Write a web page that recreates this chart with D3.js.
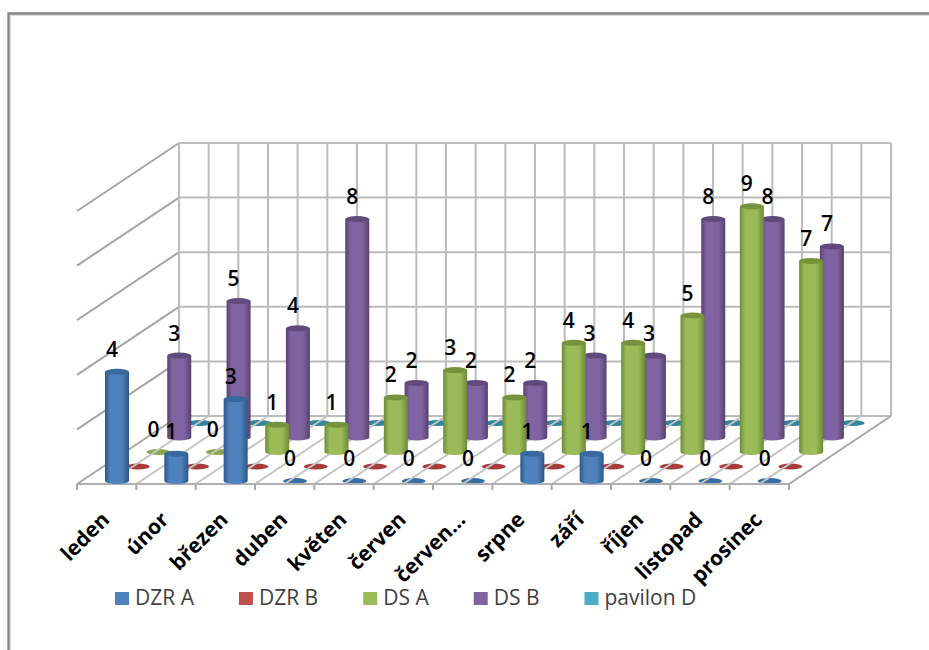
<!DOCTYPE html>
<html>
<head>
<meta charset="utf-8">
<script src="https://cdn.jsdelivr.net/npm/d3@7"></script>
<style>
  html, body { margin: 0; padding: 0; background: #fff; }
  svg { display: block; }
  text { font-family: "Open Sans", sans-serif; }
</style>
</head>
<body>
<svg width="929" height="650"></svg>
<script>
const months = ["leden", "únor", "březen", "duben", "květen", "červen", "červen...", "srpne", "září", "říjen", "listopad", "prosinec"];
const seriesNames = ["DZR A", "DZR B", "DS A", "DS B", "pavilon D"];
const dzrA = [4, 1, 3, 0, 0, 0, 0, 1, 1, 0, 0, 0];
const dzrB = [0, 0, 0, 0, 0, 0, 0, 0, 0, 0, 0, 0];
const dsA = [0, 0, 1, 1, 2, 3, 2, 4, 4, 5, 9, 7];
const dsB = [3, 5, 4, 8, 2, 2, 2, 3, 3, 8, 8, 7];
const pavilonD = [0, 0, 0, 0, 0, 0, 0, 0, 0, 0, 0, 0];
const gridTicks = [0, 2, 4, 6, 8, 10];

const seriesValues = [dzrA, dzrB, dsA, dsB, pavilonD];
const labelled = [true, false, true, true, false];
const colors = [
  { main: "#4f81bd", edge: "#2c5688", top: "#37689e", zero: "#376fa5" },
  { main: "#c0504d", edge: "#8a3432", top: "#a83c3c", zero: "#a83c3c" },
  { main: "#9bbb59", edge: "#6d8a38", top: "#76923c", zero: "#8aa84a" },
  { main: "#8064a2", edge: "#57426f", top: "#604a7b", zero: "#604a7b" },
  { main: "#4bacc6", edge: "#2b7d93", top: "#31859c", zero: "#31859c" }
];

const svg = d3.select("svg");
const depthX = 102;
const depthY = 68;
const frontY = 484;
const cylR = 12;
const cylRy = 3;

const xEdge = d3.scaleLinear().domain([0, months.length]).range([77, 789]);
const xBand = d3.scaleBand().domain(months).range([77, 789]);
const yValue = d3.scaleLinear().domain([0, 10]).range([416, 143]);
const serX = d3.scalePoint().domain(seriesNames).range([40, 123]);
const serY = d3.scalePoint().domain(seriesNames).range([481, 423]);

// outer frame of the pasted chart
const frame = svg.append("g");
frame.append("path").attr("d", "M8.5,650V13.5H929").attr("fill", "none").attr("stroke", "#868686").attr("stroke-width", 2.4);
frame.append("path").attr("d", "M10.5,650V15.5H929").attr("fill", "none").attr("stroke", "#d9d9d9").attr("stroke-width", 1);

// gradients for the cylinders
const defs = svg.append("defs");
colors.forEach((c, i) => {
  const g = defs.append("linearGradient").attr("id", `cyl${i}`);
  g.append("stop").attr("offset", "0%").attr("stop-color", c.edge);
  g.append("stop").attr("offset", "22%").attr("stop-color", c.main);
  g.append("stop").attr("offset", "70%").attr("stop-color", c.main);
  g.append("stop").attr("offset", "100%").attr("stop-color", c.edge);
});

const grid = svg.append("g").attr("fill", "none").attr("stroke", "#bcbcbc").attr("stroke-width", 2);

// back and left walls
gridTicks.forEach((t) => {
  const y = yValue(t);
  grid.append("line").attr("x1", xEdge(0) + depthX).attr("x2", xEdge(12) + depthX).attr("y1", y).attr("y2", y);
  if (t > 0) {
    grid.append("line").attr("x1", xEdge(0)).attr("y1", y + depthY).attr("x2", xEdge(0) + depthX).attr("y2", y)
      .attr("stroke", "#a6a6a6");
  }
});
// the back wall is split twice per month
d3.range(0, months.length + 0.5, 0.5).forEach((i) => {
  const x = xEdge(i);
  grid.append("line").attr("x1", x + depthX).attr("x2", x + depthX).attr("y1", yValue(0)).attr("y2", yValue(10));
});

// flat discs for the zero values lie under the floor lines
const bars0 = svg.append("g");
seriesNames.forEach((name, s) => {
  months.forEach((m, i) => {
    if (seriesValues[s][i] === 0) {
      bars0.append("ellipse")
        .attr("cx", xEdge(i) + serX(name)).attr("cy", serY(name))
        .attr("rx", cylR).attr("ry", cylRy)
        .attr("fill", colors[s].zero);
    }
  });
});

const floor = svg.append("g").attr("fill", "none").attr("stroke", "#bcbcbc").attr("stroke-width", 2);
d3.range(0, months.length + 0.5, 0.5).forEach((i) => {
  const x = xEdge(i);
  floor.append("line").attr("x1", x).attr("y1", frontY).attr("x2", x + depthX).attr("y2", frontY - depthY)
    .attr("stroke", i === 0 || i === months.length ? "#a6a6a6" : "#c4c4c4");
});
d3.range(months.length + 1).forEach((i) => {
  const x = xEdge(i);
  floor.append("line").attr("x1", x).attr("x2", x).attr("y1", frontY).attr("y2", frontY + 6).attr("stroke", "#a6a6a6");
});
floor.append("line").attr("x1", xEdge(0)).attr("x2", xEdge(12)).attr("y1", frontY).attr("y2", frontY).attr("stroke", "#b0b0b0");

// cylinders, back series first so that the front ones cover them
const bars = svg.append("g");
const unit = yValue(0) - yValue(1);
d3.range(seriesNames.length).reverse().forEach((s) => {
  const name = seriesNames[s];
  months.forEach((m, i) => {
    const v = seriesValues[s][i];
    if (v === 0) return;
    const cx = xEdge(i) + serX(name);
    const base = serY(name);
    const top = base - v * unit;
    bars.append("path")
      .attr("d", `M${cx - cylR},${top}V${base}A${cylR},${cylRy} 0 0 0 ${cx + cylR},${base}V${top}Z`)
      .attr("fill", `url(#cyl${s})`);
    bars.append("ellipse")
      .attr("cx", cx).attr("cy", top)
      .attr("rx", cylR).attr("ry", cylRy)
      .attr("fill", colors[s].top);
  });
});

// value labels sit above everything
const labels = svg.append("g")
  .attr("text-anchor", "middle")
  .attr("font-size", 21)
  .attr("font-weight", 600)
  .attr("fill", "#000");
seriesNames.forEach((name, s) => {
  if (!labelled[s]) return;
  months.forEach((m, i) => {
    const v = seriesValues[s][i];
    labels.append("text")
      .attr("x", xEdge(i) + serX(name) - 5)
      .attr("y", serY(name) - v * unit - 15)
      .text(v);
  });
});

// category axis
const xAxis = d3.axisBottom(xBand).tickSize(0).tickPadding(0);
const xAxisG = svg.append("g").attr("transform", `translate(0,${frontY})`).call(xAxis);
xAxisG.select(".domain").remove();
xAxisG.selectAll("text")
  .attr("text-anchor", "end")
  .attr("font-family", "Open Sans")
  .attr("font-size", 21)
  .attr("font-weight", 700)
  .attr("fill", "#000")
  .attr("dy", 0)
  .attr("transform", "translate(4,37) rotate(-45)");

// legend
let legendX = 115;
seriesNames.forEach((name, s) => {
  svg.append("rect").attr("x", legendX).attr("y", 592).attr("width", 14).attr("height", 13).attr("fill", colors[s].main);
  const t = svg.append("text")
    .attr("x", legendX + 20).attr("y", 605)
    .attr("font-size", 21).attr("fill", "#404040")
    .text(name);
  legendX += 20 + t.node().getComputedTextLength() + 45;
});
</script>
</body>
</html>
